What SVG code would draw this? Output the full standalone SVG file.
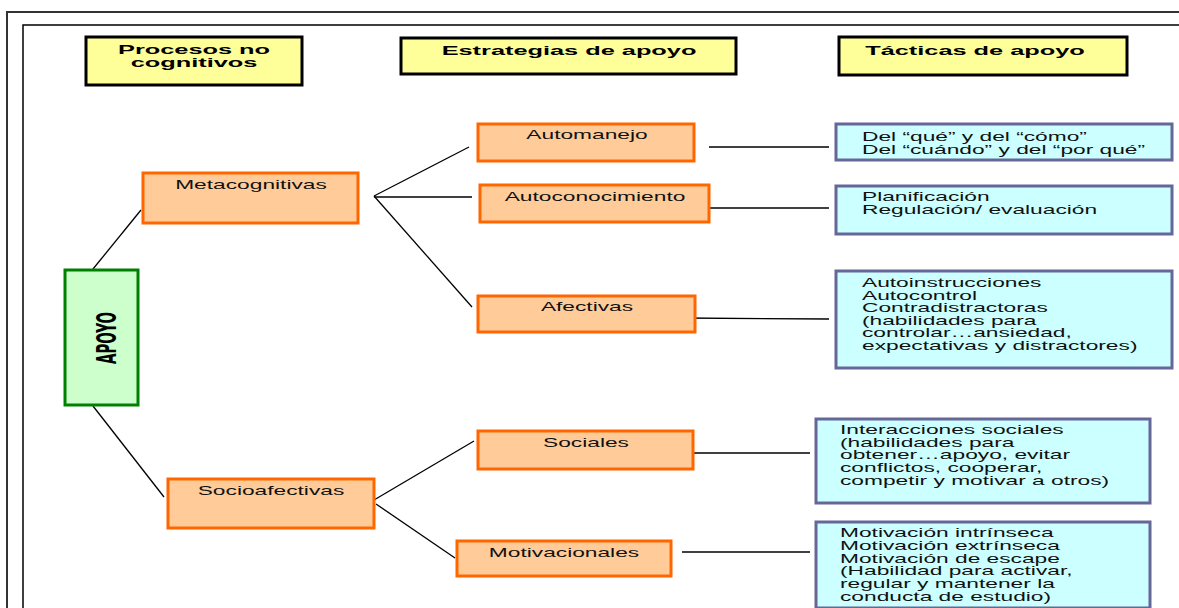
<svg xmlns="http://www.w3.org/2000/svg" width="1179" height="608" viewBox="0 0 1179 608">
<style>
.hdr{fill:#FFFF99;stroke:#000;stroke-width:3}
.org{fill:#FFCC99;stroke:#FF6600;stroke-width:3}
.blu{fill:#CCFFFF;stroke:#666699;stroke-width:3}
.grn{fill:#CCFFCC;stroke:#008000;stroke-width:3}
.ht{font-family:"Liberation Sans",Arial,sans-serif;font-weight:bold;font-size:13px;fill:#000;text-anchor:middle}
.ot{font-family:"Liberation Sans",Arial,sans-serif;font-size:13px;fill:#111;text-anchor:middle}
.bt{font-family:"Liberation Sans",Arial,sans-serif;font-size:13px;fill:#111}
.cn line{stroke:#000;stroke-width:1.3;fill:none}
</style>
<rect width="1179" height="608" fill="#fff"/>
<g id="frame" fill="none">
<path d="M7,608 V12 H1179" stroke="#333" stroke-width="2"/>
<path d="M23,608 V25 H1179" stroke="#000" stroke-width="1.5"/>
</g>
<g id="h1"><rect class="hdr" x="86" y="37" width="216" height="48"/>
<text class="ht" transform="translate(194,54) scale(1.95,1)"><tspan x="0" y="0">Procesos no</tspan><tspan x="0" y="13.5">cognitivos</tspan></text></g>
<g id="h2"><rect class="hdr" x="401" y="38" width="335" height="36"/>
<text class="ht" transform="translate(569,55) scale(1.95,1)">Estrategias de apoyo</text></g>
<g id="h3"><rect class="hdr" x="839" y="37" width="288" height="38"/>
<text class="ht" transform="translate(975,55) scale(1.95,1)">Tácticas de apoyo</text></g>
<g class="cn" id="connectors">
<line x1="93" y1="269" x2="141" y2="210"/>
<line x1="93" y1="406" x2="164" y2="497"/>
<line x1="374" y1="196" x2="469" y2="147"/>
<line x1="374" y1="197" x2="472" y2="197"/>
<line x1="374" y1="196" x2="472" y2="307"/>
<line x1="709" y1="147" x2="829" y2="147"/>
<line x1="709" y1="208" x2="829" y2="208"/>
<line x1="682" y1="318" x2="829" y2="319"/>
<line x1="374" y1="500" x2="474" y2="441"/>
<line x1="376" y1="504" x2="455" y2="558"/>
<line x1="682" y1="453" x2="810" y2="453"/>
<line x1="682" y1="552" x2="810" y2="552"/>
</g>
<g id="apoyo"><rect class="grn" x="65" y="270" width="73" height="135"/>
<text transform="translate(105,338) rotate(-90)" x="0" y="11" font-family="'DejaVu Sans Condensed','Liberation Sans',sans-serif" font-weight="bold" font-size="27" text-anchor="middle" textLength="52" lengthAdjust="spacingAndGlyphs" fill="#000">APOYO</text></g>
<g id="meta"><rect class="org" x="143" y="173" width="215" height="50"/>
<text class="ot" transform="translate(251,189) scale(1.75,1)">Metacognitivas</text></g>
<g id="socio"><rect class="org" x="168" y="479" width="206" height="49"/>
<text class="ot" transform="translate(271,495) scale(1.75,1)">Socioafectivas</text></g>
<g id="automanejo"><rect class="org" x="478" y="124" width="216" height="37"/>
<text class="ot" transform="translate(587,139) scale(1.75,1)">Automanejo</text></g>
<g id="autocon"><rect class="org" x="480" y="185" width="229" height="37"/>
<text class="ot" transform="translate(595,201) scale(1.75,1)">Autoconocimiento</text></g>
<g id="afectivas"><rect class="org" x="478" y="296" width="217" height="36"/>
<text class="ot" transform="translate(587,311) scale(1.75,1)">Afectivas</text></g>
<g id="sociales"><rect class="org" x="478" y="431" width="215" height="38"/>
<text class="ot" transform="translate(586,447) scale(1.75,1)">Sociales</text></g>
<g id="motiv"><rect class="org" x="457" y="541" width="214" height="35"/>
<text class="ot" transform="translate(564,557) scale(1.75,1)">Motivacionales</text></g>
<g id="t1"><rect class="blu" x="836" y="124" width="336" height="36"/>
<text class="bt" transform="translate(862,141) scale(1.75,1)"><tspan x="0" y="0">Del “qué” y del “cómo”</tspan><tspan x="0" y="13">Del “cuándo” y del “por qué”</tspan></text></g>
<g id="t2"><rect class="blu" x="836" y="186" width="336" height="48"/>
<text class="bt" transform="translate(862,201) scale(1.75,1)"><tspan x="0" y="0">Planificación</tspan><tspan x="0" y="13">Regulación/ evaluación</tspan></text></g>
<g id="t3"><rect class="blu" x="836" y="271" width="336" height="97"/>
<text class="bt" transform="translate(862,287) scale(1.75,1)"><tspan x="0" y="0">Autoinstrucciones</tspan><tspan x="0" y="12.6">Autocontrol</tspan><tspan x="0" y="25.2">Contradistractoras</tspan><tspan x="0" y="37.8">(habilidades para</tspan><tspan x="0" y="50.4">controlar…ansiedad,</tspan><tspan x="0" y="63">expectativas y distractores)</tspan></text></g>
<g id="t4"><rect class="blu" x="816" y="419" width="334" height="84"/>
<text class="bt" transform="translate(840,434) scale(1.75,1)"><tspan x="0" y="0">Interacciones sociales</tspan><tspan x="0" y="12.7">(habilidades para</tspan><tspan x="0" y="25.4">obtener…apoyo, evitar</tspan><tspan x="0" y="38.1">conflictos, cooperar,</tspan><tspan x="0" y="50.8">competir y motivar a otros)</tspan></text></g>
<g id="t5"><rect class="blu" x="816" y="522" width="334" height="86"/>
<text class="bt" transform="translate(840,537) scale(1.75,1)"><tspan x="0" y="0">Motivación intrínseca</tspan><tspan x="0" y="12.8">Motivación extrínseca</tspan><tspan x="0" y="25.6">Motivación de escape</tspan><tspan x="0" y="38.4">(Habilidad para activar,</tspan><tspan x="0" y="51.2">regular y mantener la</tspan><tspan x="0" y="64">conducta de estudio)</tspan></text></g>
</svg>
